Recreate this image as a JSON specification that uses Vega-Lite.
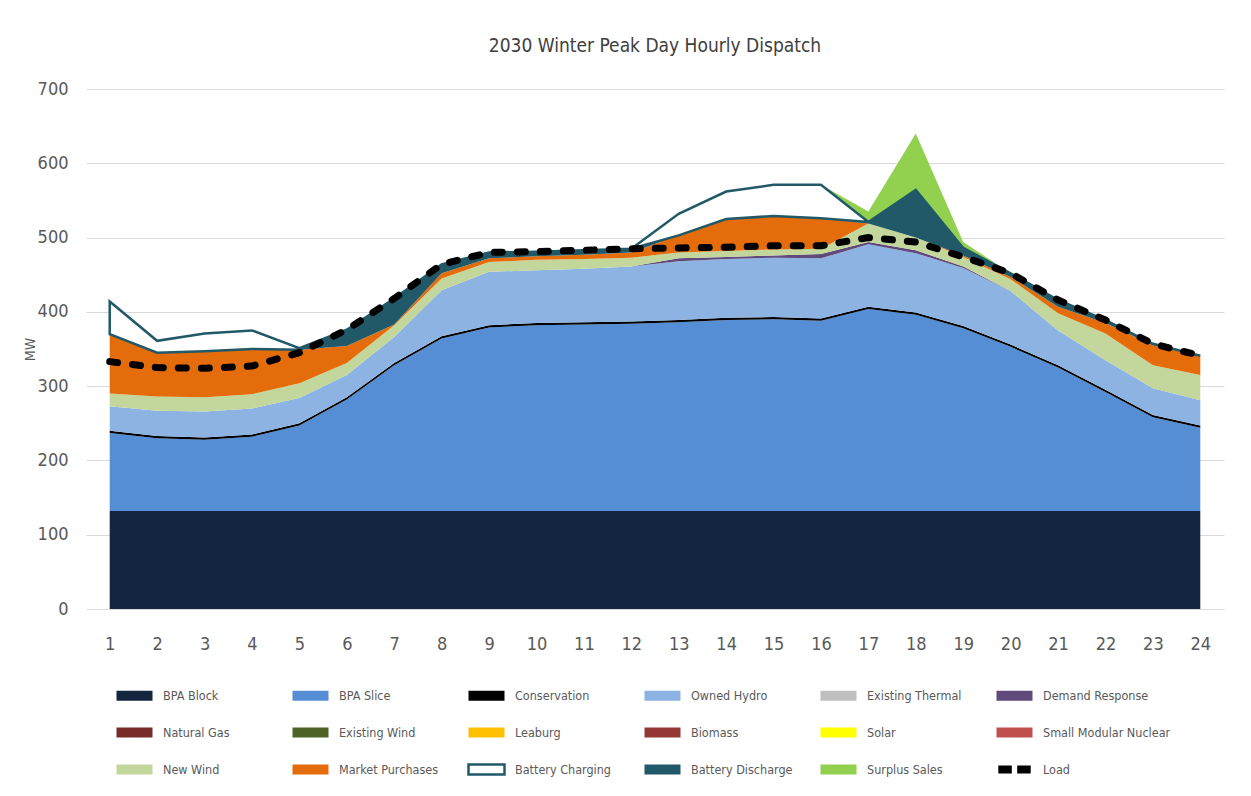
{
  "$schema": "https://vega.github.io/schema/vega-lite/v6.json",
  "width": 1138,
  "height": 520,
  "autosize": {"type": "none"},
  "padding": {"left": 86, "top": 89, "right": 27, "bottom": 187},
  "background": "white",
  "title": {
    "text": "2030 Winter Peak Day Hourly Dispatch",
    "fontSize": 19,
    "font": "Liberation Sans Narrow, DejaVu Sans Condensed, sans-serif",
    "fontWeight": "normal",
    "color": "#404040",
    "anchor": "middle",
    "offset": 24
  },
  "data": {
    "values": [
      {"hour": 1, "BPA Block": 132, "BPA Slice": 105, "Conservation": 3, "Owned Hydro": 33, "Demand Response": 0, "New Wind": 17, "Market Purchases": 80, "Battery Discharge": 0, "Battery Charging": 44, "Surplus Sales": 0, "Load": 333},
      {"hour": 2, "BPA Block": 132, "BPA Slice": 98, "Conservation": 3, "Owned Hydro": 34, "Demand Response": 0, "New Wind": 19, "Market Purchases": 59, "Battery Discharge": 0, "Battery Charging": 16, "Surplus Sales": 0, "Load": 325},
      {"hour": 3, "BPA Block": 132, "BPA Slice": 96, "Conservation": 3, "Owned Hydro": 35, "Demand Response": 0, "New Wind": 19, "Market Purchases": 62, "Battery Discharge": 0, "Battery Charging": 24, "Surplus Sales": 0, "Load": 324},
      {"hour": 4, "BPA Block": 132, "BPA Slice": 100, "Conservation": 3, "Owned Hydro": 35, "Demand Response": 0, "New Wind": 19, "Market Purchases": 61, "Battery Discharge": 0, "Battery Charging": 25, "Surplus Sales": 0, "Load": 327},
      {"hour": 5, "BPA Block": 132, "BPA Slice": 115, "Conservation": 3, "Owned Hydro": 34, "Demand Response": 0, "New Wind": 20, "Market Purchases": 45, "Battery Discharge": 0, "Battery Charging": 2, "Surplus Sales": 0, "Load": 345},
      {"hour": 6, "BPA Block": 132, "BPA Slice": 150, "Conservation": 3, "Owned Hydro": 30, "Demand Response": 0, "New Wind": 16, "Market Purchases": 23, "Battery Discharge": 22, "Battery Charging": 0, "Surplus Sales": 0, "Load": 376},
      {"hour": 7, "BPA Block": 132, "BPA Slice": 196, "Conservation": 3, "Owned Hydro": 35, "Demand Response": 0, "New Wind": 16, "Market Purchases": 1, "Battery Discharge": 35, "Battery Charging": 0, "Surplus Sales": 0, "Load": 418},
      {"hour": 8, "BPA Block": 132, "BPA Slice": 232, "Conservation": 3, "Owned Hydro": 62, "Demand Response": 0, "New Wind": 16, "Market Purchases": 7, "Battery Discharge": 12, "Battery Charging": 0, "Surplus Sales": 0, "Load": 464},
      {"hour": 9, "BPA Block": 132, "BPA Slice": 247, "Conservation": 3, "Owned Hydro": 72, "Demand Response": 0, "New Wind": 13, "Market Purchases": 5, "Battery Discharge": 8, "Battery Charging": 0, "Surplus Sales": 0, "Load": 480},
      {"hour": 10, "BPA Block": 132, "BPA Slice": 250, "Conservation": 3, "Owned Hydro": 71, "Demand Response": 0, "New Wind": 14, "Market Purchases": 5, "Battery Discharge": 6, "Battery Charging": 0, "Surplus Sales": 0, "Load": 481},
      {"hour": 11, "BPA Block": 132, "BPA Slice": 251, "Conservation": 3, "Owned Hydro": 72, "Demand Response": 0, "New Wind": 13, "Market Purchases": 6, "Battery Discharge": 6, "Battery Charging": 0, "Surplus Sales": 0, "Load": 483},
      {"hour": 12, "BPA Block": 132, "BPA Slice": 252, "Conservation": 3, "Owned Hydro": 74, "Demand Response": 0, "New Wind": 12, "Market Purchases": 7, "Battery Discharge": 5, "Battery Charging": 0, "Surplus Sales": 0, "Load": 485},
      {"hour": 13, "BPA Block": 132, "BPA Slice": 254, "Conservation": 3, "Owned Hydro": 79, "Demand Response": 4, "New Wind": 8, "Market Purchases": 23, "Battery Discharge": 0, "Battery Charging": 29, "Surplus Sales": 0, "Load": 486},
      {"hour": 14, "BPA Block": 132, "BPA Slice": 257, "Conservation": 3, "Owned Hydro": 79, "Demand Response": 3, "New Wind": 8, "Market Purchases": 43, "Battery Discharge": 0, "Battery Charging": 37, "Surplus Sales": 0, "Load": 487},
      {"hour": 15, "BPA Block": 132, "BPA Slice": 258, "Conservation": 3, "Owned Hydro": 80, "Demand Response": 3, "New Wind": 8, "Market Purchases": 45, "Battery Discharge": 0, "Battery Charging": 42, "Surplus Sales": 0, "Load": 489},
      {"hour": 16, "BPA Block": 132, "BPA Slice": 256, "Conservation": 3, "Owned Hydro": 81, "Demand Response": 6, "New Wind": 7, "Market Purchases": 41, "Battery Discharge": 0, "Battery Charging": 45, "Surplus Sales": 0, "Load": 489},
      {"hour": 17, "BPA Block": 132, "BPA Slice": 272, "Conservation": 3, "Owned Hydro": 84, "Demand Response": 3, "New Wind": 25, "Market Purchases": 0, "Battery Discharge": 2, "Battery Charging": 0, "Surplus Sales": 14, "Load": 500},
      {"hour": 18, "BPA Block": 132, "BPA Slice": 264, "Conservation": 3, "Owned Hydro": 80, "Demand Response": 4, "New Wind": 17, "Market Purchases": 0, "Battery Discharge": 64, "Battery Charging": 0, "Surplus Sales": 76, "Load": 494},
      {"hour": 19, "BPA Block": 132, "BPA Slice": 246, "Conservation": 3, "Owned Hydro": 78, "Demand Response": 2, "New Wind": 13, "Market Purchases": 2, "Battery Discharge": 10, "Battery Charging": 0, "Surplus Sales": 8, "Load": 474},
      {"hour": 20, "BPA Block": 132, "BPA Slice": 221, "Conservation": 3, "Owned Hydro": 72, "Demand Response": 0, "New Wind": 16, "Market Purchases": 3, "Battery Discharge": 5, "Battery Charging": 0, "Surplus Sales": 0, "Load": 452},
      {"hour": 21, "BPA Block": 132, "BPA Slice": 193, "Conservation": 3, "Owned Hydro": 47, "Demand Response": 0, "New Wind": 23, "Market Purchases": 9, "Battery Discharge": 9, "Battery Charging": 0, "Surplus Sales": 0, "Load": 416},
      {"hour": 22, "BPA Block": 132, "BPA Slice": 160, "Conservation": 3, "Owned Hydro": 40, "Demand Response": 0, "New Wind": 36, "Market Purchases": 14, "Battery Discharge": 4, "Battery Charging": 0, "Surplus Sales": 0, "Load": 389},
      {"hour": 23, "BPA Block": 132, "BPA Slice": 126, "Conservation": 3, "Owned Hydro": 36, "Demand Response": 0, "New Wind": 31, "Market Purchases": 27, "Battery Discharge": 2, "Battery Charging": 0, "Surplus Sales": 0, "Load": 357},
      {"hour": 24, "BPA Block": 132, "BPA Slice": 112, "Conservation": 3, "Owned Hydro": 34, "Demand Response": 0, "New Wind": 34, "Market Purchases": 25, "Battery Discharge": 1, "Battery Charging": 0, "Surplus Sales": 0, "Load": 341}
    ]
  },
  "encoding": {
    "x": {
      "field": "hour",
      "type": "quantitative",
      "scale": {"domain": [0.5, 24.5], "nice": false, "zero": false},
      "axis": {
        "title": null,
        "values": [1,2,3,4,5,6,7,8,9,10,11,12,13,14,15,16,17,18,19,20,21,22,23,24],
        "grid": false,
        "domain": false,
        "ticks": false,
        "labelPadding": 26,
        "labelFontSize": 18,
        "labelFont": "Liberation Sans Narrow, DejaVu Sans Condensed, sans-serif",
        "labelColor": "#595959"
      }
    }
  },
  "layer": [
    {
      "transform": [
        {"fold": ["BPA Block","BPA Slice","Conservation","Owned Hydro","Demand Response","New Wind","Market Purchases","Battery Discharge","Battery Charging","Surplus Sales"], "as": ["series", "value"]},
        {"calculate": "indexof(['BPA Block','BPA Slice','Conservation','Owned Hydro','Demand Response','New Wind','Market Purchases','Battery Discharge','Battery Charging','Surplus Sales'], datum.series)", "as": "ord"},
        {"stack": "value", "groupby": ["hour"], "sort": [{"field": "ord", "order": "ascending"}], "as": ["v0", "v1"], "offset": "zero"}
      ],
      "mark": {"type": "area", "interpolate": "linear", "opacity": 1},
      "encoding": {
        "y": {
          "field": "v1",
          "type": "quantitative",
          "scale": {"domain": [0, 700], "nice": false},
          "axis": {
            "title": "MW",
            "titleFontSize": 14,
            "titleFontWeight": "normal",
            "titleColor": "#595959",
            "titleFont": "Liberation Sans Narrow, DejaVu Sans Condensed, sans-serif",
            "titlePadding": 0,
            "values": [0,100,200,300,400,500,600,700],
            "grid": true,
            "gridColor": "#d9d9d9",
            "gridWidth": 1.2,
            "domain": false,
            "ticks": false,
            "labelPadding": 18,
            "labelFontSize": 18,
            "labelFont": "Liberation Sans Narrow, DejaVu Sans Condensed, sans-serif",
            "labelColor": "#595959"
          }
        },
        "y2": {"field": "v0"},
        "color": {
          "field": "series",
          "type": "nominal",
          "scale": {
            "domain": ["BPA Block","BPA Slice","Conservation","Owned Hydro","Existing Thermal","Demand Response","Natural Gas","Existing Wind","Leaburg","Biomass","Solar","Small Modular Nuclear","New Wind","Market Purchases","Battery Charging","Battery Discharge","Surplus Sales","Load"],
            "range": ["#14253f","#558ed5","#000000","#8db3e2","#bfbfbf","#604a7b","#772c2a","#4f6228","#ffc000","#953735","#ffff00","#c0504d","#c3d69b","#e46c0a","#ffffff","#215968","#92d050","#000000"]
          },
          "legend": {
            "title": null,
            "orient": "none",
            "legendX": 29,
            "legendY": 587,
            "direction": "horizontal",
            "columns": 6,
            "gridAlign": "all",
            "padding": 0,
            "columnPadding": -5,
            "rowPadding": 7,
            "symbolSize": 1296,
            "symbolType": {"expr": "datum.value === 'Load' ? 'M-0.9,-0.22L-0.15,-0.22L-0.15,0.22L-0.9,0.22Z M0.15,-0.22L0.9,-0.22L0.9,0.22L0.15,0.22Z' : 'M-1,-0.28L1,-0.28L1,0.28L-1,0.28Z'"},
            "symbolStrokeColor": {"expr": "datum.value === 'Battery Charging' ? '#215968' : 'transparent'"},
            "symbolStrokeWidth": 2.5,
            "symbolOpacity": 1,
            "labelFontSize": 12.5,
            "labelFont": "Liberation Sans Narrow, DejaVu Sans Condensed, sans-serif",
            "labelColor": "#595959",
            "labelOffset": 9,
            "labelLimit": 200
          }
        }
      }
    },
    {
      "transform": [
        {"fold": ["BPA Block","BPA Slice","Conservation","Owned Hydro","Demand Response","New Wind","Market Purchases","Battery Discharge","Battery Charging","Surplus Sales"], "as": ["series", "value"]},
        {"calculate": "indexof(['BPA Block','BPA Slice','Conservation','Owned Hydro','Demand Response','New Wind','Market Purchases','Battery Discharge','Battery Charging','Surplus Sales'], datum.series)", "as": "ord"},
        {"stack": "value", "groupby": ["hour"], "sort": [{"field": "ord", "order": "ascending"}], "as": ["v0", "v1"], "offset": "zero"},
        {"filter": "datum.series === 'Battery Charging'"}
      ],
      "mark": {"type": "area", "interpolate": "linear", "fill": "transparent", "stroke": "#215968", "strokeWidth": 2.5, "strokeJoin": "miter"},
      "encoding": {
        "y": {"field": "v1", "type": "quantitative"},
        "y2": {"field": "v0"}
      }
    },
    {
      "mark": {"type": "line", "color": "#000000", "strokeWidth": 7, "strokeDash": [8, 15], "strokeCap": "round"},
      "encoding": {
        "y": {"field": "Load", "type": "quantitative"}
      }
    }
  ],
  "config": {
    "view": {"stroke": null}
  }
}
